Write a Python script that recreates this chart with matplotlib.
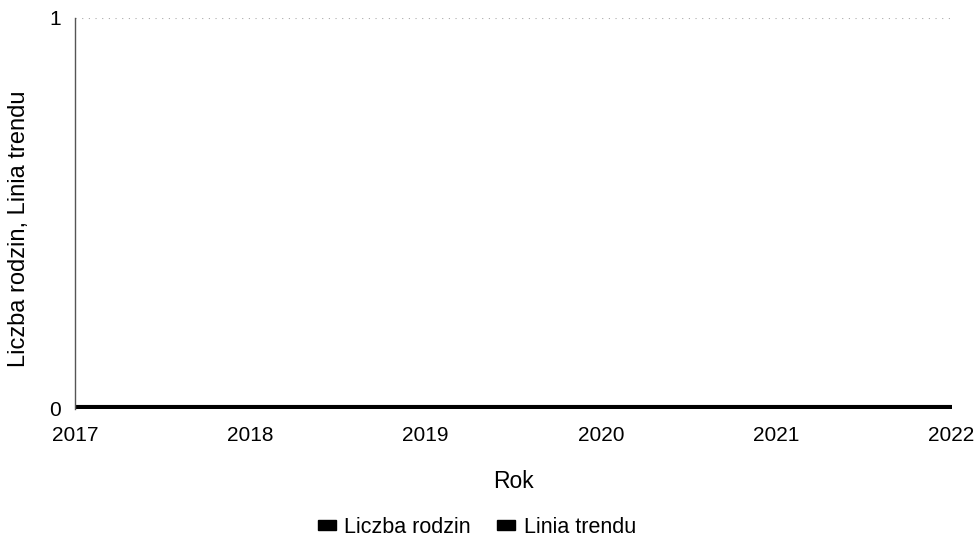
import matplotlib.pyplot as plt
from matplotlib.patches import Patch

# data
years = [2017, 2018, 2019, 2020, 2021, 2022]
liczba_rodzin = [0, 0, 0, 0, 0, 0]
linia_trendu = [0, 0, 0, 0, 0, 0]

plt.rcParams['font.family'] = ['Liberation Sans', 'DejaVu Sans']

fig = plt.figure(figsize=(9.75, 5.43), dpi=100)
ax = fig.add_axes([0.077, 0.247, 0.899, 0.72])

ax.plot(years, liczba_rodzin, color='black', lw=5.8, solid_capstyle='butt', label='Liczba rodzin')
ax.plot(years, linia_trendu, color='black', lw=5.8, solid_capstyle='butt', label='Linia trendu')

ax.set_xlim(2017, 2022)
ax.set_ylim(0, 1)
ax.set_xticks(years)
ax.set_yticks([0, 1])
ax.tick_params(length=0, labelsize=15)
ax.tick_params(axis='x', pad=12.5)
ax.tick_params(axis='y', pad=10)

ax.grid(axis='y', color='#aaaaaa', linestyle=(0, (1, 5)), lw=0.8)
for s in ['top', 'right', 'bottom']:
    ax.spines[s].set_visible(False)
ax.spines['left'].set_color('#555555')
ax.spines['left'].set_linewidth(1)

ax.set_xlabel('Rok', fontsize=16.5, labelpad=18)
ax.set_ylabel('Liczba rodzin, Linia trendu', fontsize=17)
ax.yaxis.set_label_coords(-0.051, 0.46)

handles = [Patch(color='black', label='Liczba rodzin'),
           Patch(color='black', label='Linia trendu')]
fig.legend(handles=handles, loc='lower center', bbox_to_anchor=(0.489, -0.026),
           ncol=2, frameon=False, fontsize=15.5, handlelength=0.85, handleheight=0.35,
           handletextpad=0.4, columnspacing=1.2)

plt.savefig('out.png', dpi=100)
